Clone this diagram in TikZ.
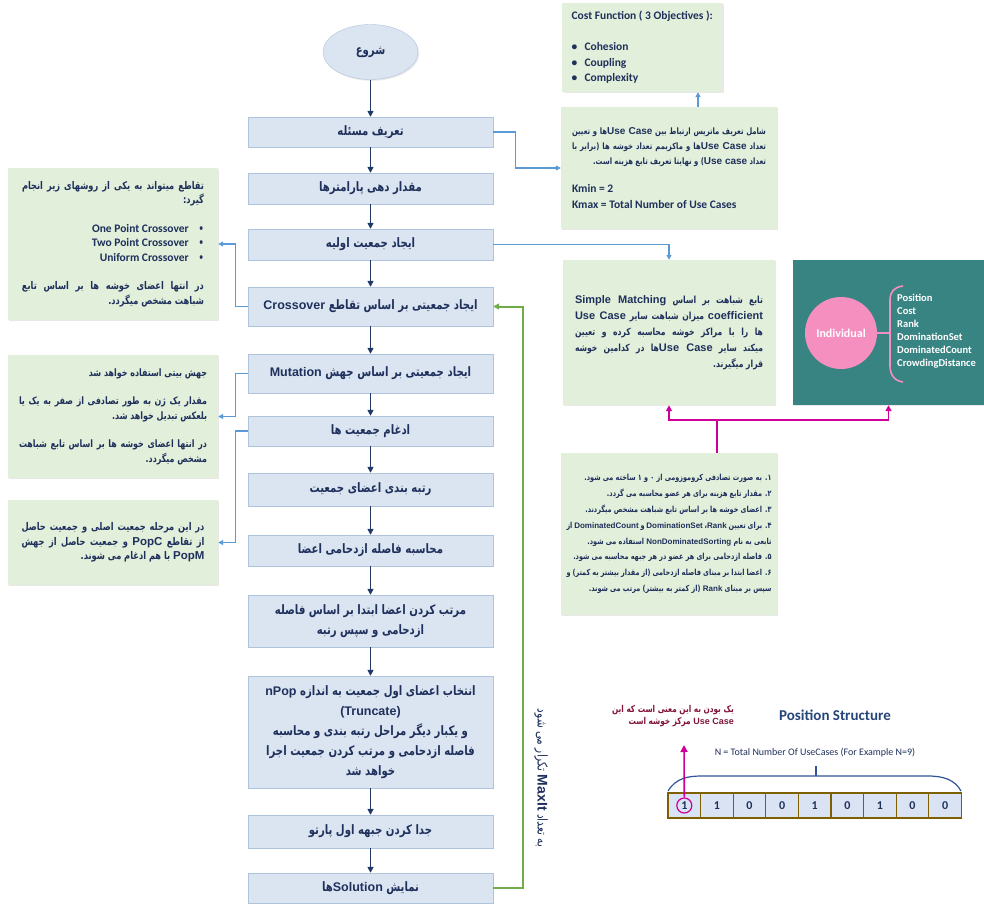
\documentclass[tikz,border=0pt]{standalone}
\usepackage{fontspec}
\setmainfont{Carlito}
\newfontfamily\fa[Script=Arabic, FakeStretch=0.78]{DejaVu Sans}
\newfontfamily\latinfont{Carlito}
\newfontfamily\enlatin{Liberation Sans}
\TeXXeTstate=1
\hyphenpenalty=10000
\exhyphenpenalty=10000
\usetikzlibrary{arrows.meta,shapes.geometric,shadows}

\definecolor{ink}{RGB}{31,48,92}
\definecolor{navy}{RGB}{31,56,100}
\definecolor{stagefill}{RGB}{219,229,241}
\definecolor{stageline}{RGB}{176,195,220}
\definecolor{notefill}{RGB}{226,239,218}
\definecolor{linkblue}{RGB}{91,155,213}
\definecolor{loopgreen}{RGB}{112,173,71}
\definecolor{tealbox}{RGB}{56,132,130}
\definecolor{pinkdot}{RGB}{244,143,192}
\definecolor{magline}{RGB}{204,0,153}
\definecolor{cellfill}{RGB}{218,227,243}
\definecolor{cellline}{RGB}{127,96,0}
\definecolor{maroon}{RGB}{128,20,60}
\definecolor{arcblue}{RGB}{47,85,151}

% latin words inside persian text
\def\enfont{}
\newcommand\en[1]{\beginL{\enlatin\enfont #1}\endL}

\tikzset{
  softshadow/.style={drop shadow={opacity=0.18, shadow xshift=1.3pt, shadow yshift=-1.3pt}},
  stage/.style={draw=stageline, fill=stagefill, softshadow, minimum width=245pt, align=center, text=ink,
    inner sep=2pt, font={\fa\bfseries\fontsize{13}{20}\selectfont\def\enfont{\fontsize{12.5}{16}\selectfont}}},
  flow/.style={draw=navy, line width=1.6pt, -{Triangle[length=6pt,width=6pt]}},
  note/.style={fill=notefill, softshadow, text=ink, inner ysep=0pt, align=justify,
    font={\fa\bfseries\fontsize{10.6}{14.5}\selectfont\parindent=0pt\def\enfont{\fontsize{11.5}{14.5}\selectfont}}},
  link/.style={draw=linkblue, line width=1.2pt, -{Triangle[length=5pt,width=5pt]}},
  repeatline/.style={draw=loopgreen, line width=2pt, -{Triangle[length=6pt,width=6pt]}},
  magenta/.style={draw=magline, line width=1.6pt},
  cell/.style={draw=cellline, fill=cellfill, line width=1.2pt, minimum width=32.6pt, minimum height=25pt,
    inner sep=0pt, text=ink, font=\latinfont\bfseries\fontsize{12}{14}\selectfont},
}

\begin{document}
\begin{tikzpicture}[x=1pt, y=-1pt]
  \useasboundingbox (0,0) rectangle (984,904);

  % main flow
  \node[stage, ellipse, minimum width=95pt, minimum height=55pt] (start) at (370.5,52) {\beginR شروع\endR};
  \node[stage, minimum height=30pt] (define) at (370.5,132) {\beginR تعریف مسئله\endR};
  \node[stage, minimum height=31pt] (params) at (370.5,188.5) {\beginR مقدار دهی پارامترها\endR};
  \node[stage, minimum height=31pt] (init) at (370.5,244.5) {\beginR ایجاد جمعیت اولیه\endR};
  \node[stage, minimum height=39pt] (cross) at (370.5,306.5) {\beginR ایجاد جمعیتی بر اساس تقاطع \en{Crossover}\endR};
  \node[stage, minimum height=39pt] (mutate) at (370.5,373.5) {\beginR ایجاد جمعیتی بر اساس جهش \en{Mutation}\endR};
  \node[stage, minimum height=30pt] (merge) at (370.5,431) {\beginR ادغام جمعیت ها\endR};
  \node[stage, minimum height=33pt] (rank) at (370.5,489.5) {\beginR رتبه بندی اعضای جمعیت\endR};
  \node[stage, minimum height=31pt] (crowd) at (370.5,550.5) {\beginR محاسبه فاصله ازدحامی اعضا\endR};
  \node[stage, minimum height=52pt] (sort) at (370.5,621)
    {\beginR مرتب کردن اعضا ابتدا بر اساس فاصله\endR\\\beginR ازدحامی و سپس رتبه\endR};
  \node[stage, minimum height=112pt] (trunc) at (370.5,732)
    {\beginR انتخاب اعضای اول جمعیت به اندازه \en{nPop}\endR\\\en{(Truncate)}\\
     \beginR و یکبار دیگر مراحل رتبه بندی و محاسبه\endR\\
     \beginR فاصله ازدحامی و مرتب کردن جمعیت اجرا\endR\\\beginR خواهد شد\endR};
  \node[stage, minimum height=33pt] (front) at (370.5,831.5) {\beginR جدا کردن جبهه اول پارتو\endR};
  \node[stage, minimum height=30pt] (show) at (370.5,888) {\beginR نمایش \en{Solution}ها\endR};

  \foreach \a/\b in {start/define, define/params, params/init, init/cross, cross/mutate, mutate/merge,
    merge/rank, rank/crowd, crowd/sort, sort/trunc, trunc/front, front/show}
    \draw[flow] (\a) -- (\b);

  % repeat loop
  \draw[repeatline] (show.east) -- ++(30,0) |- (cross.east);
  \node[rotate=-90, text=ink, font={\fa\fontsize{13.5}{16}\selectfont\def\enfont{\bfseries\fontsize{14}{16}\selectfont}}]
    (maxit) at (541,778) {\beginR به تعداد \en{MaxIt} تکرار می شود\endR};

  % notes on the left
  \node[note, text width=182pt, minimum width=210pt, minimum height=152pt] (crossnote) at (113,244) {%
    \beginR تقاطع میتواند به یکی از روشهای زیر انجام گیرد:\par\vskip 14pt
    \hfill{\latinfont\fontsize{11.5}{14.5}\selectfont One Point Crossover}\hspace{10pt}\textbullet\par
    \hfill{\latinfont\fontsize{11.5}{14.5}\selectfont Two Point Crossover}\hspace{10pt}\textbullet\par
    \hfill{\latinfont\fontsize{11.5}{14.5}\selectfont Uniform Crossover}\hspace{10pt}\textbullet\par\vskip 14pt
    \beginR در انتها اعضای خوشه ها بر اساس تابع\linebreak شباهت مشخص میگردد.\par};
  \node[note, text width=188pt, minimum width=210pt, minimum height=123pt,
    font={\fa\bfseries\fontsize{10.2}{14.5}\selectfont\parindent=0pt}] (mutnote) at (113,416.5) {%
    \beginR جهش بیتی استفاده خواهد شد\par\vskip 14pt
    \beginR مقدار یک ژن به طور تصادفی از صفر به یک یا بلعکس تبدیل خواهد شد.\par\vskip 14pt
    \beginR در انتها اعضای خوشه ها بر اساس تابع شباهت مشخص میگردد.\par};
  \node[note, text width=183pt, minimum width=210pt, minimum height=85pt] (mergenote) at (113,542.5) {%
    \beginR در این مرحله جمعیت اصلی و جمعیت حاصل از تقاطع \en{PopC} و جمعیت حاصل از جهش \en{PopM} با هم ادغام می شوند.\par};

  \draw[link] (cross.west) -- ++(-12,0) |- (crossnote.east);
  \draw[link] (mutate.west) -- ++(-12,0) |- (mutnote.east);
  \draw[link] (merge.west) -- ++(-12,0) |- (mergenote.east);

  % notes on the right
  \node[note, align=left, minimum width=160pt, minimum height=89pt, anchor=west, inner xsep=4pt,
    font=\latinfont\bfseries\fontsize{11.5}{15.5}\selectfont] (costnote) at (562,47.5) {%
    Cost Function ( 3 Objectives ):\\[15.5pt]
    \makebox[13pt][l]{\textbullet}Cohesion\\\makebox[13pt][l]{\textbullet}Coupling\\\makebox[13pt][l]{\textbullet}Complexity};
  \node[note, text width=194pt, minimum width=216pt, minimum height=122pt,
    font={\fa\bfseries\fontsize{8.8}{15}\selectfont\parindent=0pt\def\enfont{\fontsize{10}{15}\selectfont}}] (defnote) at (669,168) {%
    \beginR شامل تعریف ماتریس ارتباط بین \en{Use~Case}ها و تعیین تعداد \en{Use~Case}ها و ماکزیمم تعداد خوشه ها (برابر با تعداد \en{Use~case}) و نهایتا تعریف تابع هزینه است.\par\vskip 13pt
    {\latinfont\fontsize{11.5}{15.5}\selectfont Kmin = 2\par Kmax = Total Number of Use Cases\par}};
  \node[note, text width=188pt, minimum width=212pt, minimum height=145pt,
    font={\fa\bfseries\fontsize{9.8}{16}\selectfont\parindent=0pt\def\enfont{\fontsize{11}{16}\selectfont}}] (simnote) at (669,332.5) {%
    \beginR تابع شباهت بر اساس \en{Simple Matching}\linebreak\en{coefficient} میزان شباهت سایر \en{Use~Case}\linebreak ها را با مراکز خوشه محاسبه کرده و تعیین\linebreak میکند سایر \en{Use~Case}ها در کدامین خوشه\linebreak قرار میگیرند.\par};
  \node[note, text width=205pt, minimum width=216pt, minimum height=162pt,
    font={\fa\bfseries\fontsize{8.3}{15.8}\selectfont\parindent=0pt\def\enfont{\fontsize{8}{15.8}\selectfont}}] (stepsnote) at (669,534) {%
    \beginR ۱. به صورت تصادفی کروموزومی از ۰ و ۱ ساخته می شود.\par
    \beginR ۲. مقدار تابع هزینه برای هر عضو محاسبه می گردد.\par
    \beginR ۳. اعضای خوشه ها بر اساس تابع شباهت مشخص میگردند.\par
    \beginR ۴. برای تعیین \en{Rank}، \en{DominationSet} و \en{DominatedCount} از تابعی به نام \en{NonDominatedSorting} استفاده می شود.\par
    \beginR ۵. فاصله ازدحامی برای هر عضو در هر جبهه محاسبه می شود.\par
    \beginR ۶. اعضا ابتدا بر مبنای فاصله ازدحامی (از مقدار بیشتر به کمتر) و سپس بر مبنای \en{Rank} (از کمتر به بیشتر) مرتب می شوند.\par};

  \draw[link] (define.east) -- ++(22,0) |- (defnote.west);
  \draw[link] ([xshift=29pt]defnote.north) -- ([xshift=29pt]defnote.north |- costnote.south);
  \draw[link] (init.east) -| (simnote.north);

  % individual structure
  \node[fill=tealbox, softshadow, minimum width=191pt, minimum height=145pt] (indiv) at (888.5,332.5) {};
  \node[circle, fill=pinkdot, minimum size=72pt, text=white, font=\latinfont\bfseries\fontsize{12}{14}\selectfont]
    (indivdot) at (841,333) {Individual};
  \draw[draw=pinkdot, line width=1.6pt] (indivdot.east) -- (890,333);
  \draw[draw=pinkdot, line width=1.6pt] (903,286) .. controls (894,287) and (890,292) .. (890,300) -- (890,366)
    .. controls (890,374) and (894,381) .. (903,382);
  \node[anchor=north west, align=left, inner sep=0pt, text=white,
    font=\latinfont\bfseries\fontsize{10.5}{12.9}\selectfont] (fields) at (897,294)
    {Position\\Cost\\Rank\\DominationSet\\DominatedCount\\CrowdingDistance};

  \coordinate (fork) at (717,420);
  \draw[magenta] ([xshift=48pt]stepsnote.north) -- (fork);
  \draw[magenta, -{Triangle[length=6pt,width=6pt]}] (fork) -| (simnote.south);
  \draw[magenta, -{Triangle[length=6pt,width=6pt]}] (fork) -| (indiv.south);

  % position structure
  \node[text=arcblue!80!black, font=\latinfont\bfseries\fontsize{15}{17}\selectfont] (posttl) at (835,715) {Position Structure};
  \node[text=ink, font=\latinfont\fontsize{10}{12}\selectfont] (ntotal) at (815,753) {N = Total Number Of UseCases (For Example N=9)};
  \foreach \v [count=\i] in {1,1,0,0,1,0,1,0,0}
    \node[cell] (c\i) at ({668+16.3+32.6*(\i-1)},805.5) {\v};
  \draw[draw=arcblue, line width=1.2pt] (668,791) .. controls (676,778) and (688,776) .. (702,776) -- (928,776)
    .. controls (944,776) and (955,780) .. (961,791);
  \draw[draw=arcblue, line width=1.2pt] (816,776) -- (816,766);
  \node[circle, draw=magline, line width=1.2pt, minimum size=15pt, inner sep=0pt] (pick) at (c1) {};
  \coordinate (tip) at (684,745);
  \draw[magenta, -{Triangle[length=7pt,width=7pt]}] (pick.north) -- (tip);
  \node[anchor=east, align=right, text=maroon, inner sep=0pt,
    font={\fa\bfseries\fontsize{9.4}{11.5}\selectfont\def\enfont{\fontsize{9}{11.5}\selectfont}}] (meaning) at (734,716)
    {\beginR یک بودن به این معنی است که این\endR\\\beginR\en{Use Case} مرکز خوشه است\endR};
\end{tikzpicture}
\end{document}
